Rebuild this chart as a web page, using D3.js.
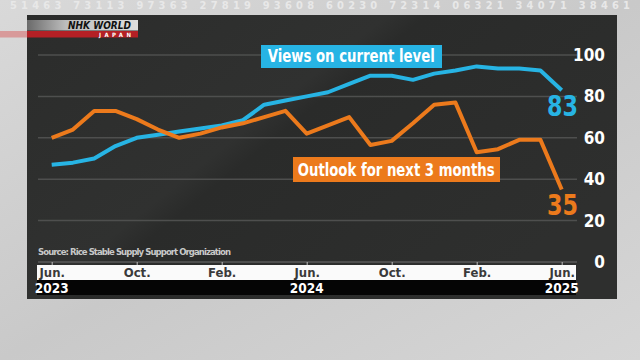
<!DOCTYPE html>
<html><head><meta charset="utf-8">
<script src="https://cdn.jsdelivr.net/npm/d3@7"></script>
<style>
html,body{margin:0;padding:0;background:#cfcfcf;}
svg{display:block;}
text{font-family:"Liberation Sans Narrow","DejaVu Sans Condensed","Liberation Sans",sans-serif;font-weight:bold;}
</style></head>
<body>
<svg id="c" width="640" height="360"></svg>
<script>
// ---- data ----
const months = ["2023-06","2023-07","2023-08","2023-09","2023-10","2023-11","2023-12",
  "2024-01","2024-02","2024-03","2024-04","2024-05","2024-06","2024-07","2024-08","2024-09",
  "2024-10","2024-11","2024-12","2025-01","2025-02","2025-03","2025-04","2025-05","2025-06"];
const viewsCurrent = [47,48,50,56,60,61.5,63,64.5,66,68.5,76,78,80,82,86,90,90,88,91,92.5,94.5,93.5,93.5,92.5,83];
const outlook3m   = [60,64,73,73,69,64,60,62,65,67,70,73,62,66,70,56.5,58.5,67,76,77,53,54.5,59,59,35];
const monthTicks  = ["2023-06","2023-10","2024-02","2024-06","2024-10","2025-02","2025-06"];
const monthLabels = ["Jun.","Oct.","Feb.","Jun.","Oct.","Feb.","Jun."];
const yearLabels  = {"2023-06":"2023","2024-06":"2024","2025-06":"2025"};
const yTicks = [0,20,40,60,80,100];
const seriesNames = ["Views on current level","Outlook for next 3 months"];
const source = "Source: Rice Stable Supply Support Organization";

const svg = d3.select("#c");
const defs = svg.append("defs");

// background
const bg = defs.append("linearGradient").attr("id","bg").attr("x1",0).attr("y1",0).attr("x2",1).attr("y2",1);
bg.append("stop").attr("offset","0").attr("stop-color","#d9d9d9");
bg.append("stop").attr("offset","0.5").attr("stop-color","#c9c9c9");
bg.append("stop").attr("offset","1").attr("stop-color","#d6d6d6");
svg.append("rect").attr("width",640).attr("height",360).attr("fill","url(#bg)");

// faint background digits (top strip only)
svg.append("text").attr("x",10).attr("y",9).attr("fill","#e8e8e8")
  .attr("font-size",11).attr("textLength",620)
  .text("51463   73113   97363   27819   93608   60230   72314   06321   34071   38461");

// panel
const pg = defs.append("linearGradient").attr("id","pg").attr("x1",0).attr("y1",0).attr("x2",1).attr("y2",0.6);
pg.append("stop").attr("offset","0").attr("stop-color","#2b2c2b");
pg.append("stop").attr("offset","0.45").attr("stop-color","#303130");
pg.append("stop").attr("offset","0.5").attr("stop-color","#2a2b2a");
pg.append("stop").attr("offset","1").attr("stop-color","#2e2f2e");
svg.append("rect").attr("x",27).attr("y",15).attr("width",590).attr("height",284).attr("fill","url(#pg)");

// logo
const lg = defs.append("linearGradient").attr("id","lg");
lg.append("stop").attr("offset","0").attr("stop-color","#6a6a6a");
lg.append("stop").attr("offset","0.35").attr("stop-color","#bdbdbd");
lg.append("stop").attr("offset","1").attr("stop-color","#dedede");
svg.append("rect").attr("x",27).attr("y",20).attr("width",111).attr("height",10.5).attr("fill","url(#lg)");
svg.append("rect").attr("x",0).attr("y",31).attr("width",27).attr("height",6.5).attr("fill","#d89a9a");
svg.append("rect").attr("x",27).attr("y",31).attr("width",111).attr("height",6.5).attr("fill","#b42025");
svg.append("text").attr("x",68).attr("y",29.3).attr("font-size",10.5).attr("fill","#111")
  .attr("font-style","italic").attr("textLength",63).attr("lengthAdjust","spacingAndGlyphs").text("NHK WORLD");
svg.append("text").attr("x",99).attr("y",36.5).attr("font-size",6).attr("fill","#fff")
  .attr("textLength",32).text("JAPAN");

// scales
const x = d3.scalePoint().domain(months).range([51.7,561.7]);
const y = d3.scaleLinear().domain([0,100]).range([262,55]);

// gridlines
svg.append("g").selectAll("line").data(yTicks.filter(d=>d>0)).join("line")
  .attr("x1",38).attr("x2",577).attr("y1",d=>y(d)).attr("y2",d=>y(d))
  .attr("stroke","#4e4f4e").attr("stroke-width",1.5);

// y axis labels
const ya = svg.append("g").attr("transform","translate(605,0)")
  .call(d3.axisLeft(y).tickValues(yTicks).tickSize(0).tickPadding(0));
ya.select(".domain").remove();
ya.selectAll("text").attr("fill","#fff").attr("font-size",17).attr("font-family",null);

// x axis strips
svg.append("rect").attr("x",37).attr("y",265).attr("width",539).attr("height",15).attr("fill","#fafafa");
svg.append("rect").attr("x",37).attr("y",280).attr("width",539).attr("height",15).attr("fill","#050505");

const xa = svg.append("g").attr("transform","translate(0,262)")
  .call(d3.axisBottom(x).tickValues(monthTicks).tickSize(3).tickPadding(0)
    .tickFormat((d,i)=>monthLabels[i]));
xa.select(".domain").attr("stroke","#5a5a5a").attr("stroke-width",1.5).attr("d","M38,0H577");
xa.selectAll(".tick line").attr("stroke","#bdbdbd");
xa.selectAll("text").attr("fill","#3a3a3a").attr("font-size",13).attr("font-family",null)
  .attr("dy",null).attr("y",14.7);

// year labels
svg.append("g").selectAll("text").data(monthTicks.filter(m=>yearLabels[m])).join("text")
  .attr("x",d=>x(d)).attr("y",292.7).attr("text-anchor","middle")
  .attr("fill","#fff").attr("font-size",13.5).text(d=>yearLabels[d]);

// source
svg.append("text").attr("x",38).attr("y",255).attr("fill","#c8c8c8").attr("font-size",9.5)
  .attr("font-weight","normal").attr("textLength",193).text(source);

// lines
const line = d3.line().x((d,i)=>x(months[i])).y(d=>y(d));
const colors = ["#27b4e4","#ec7a1c"];
[viewsCurrent,outlook3m].forEach((s,k)=>{
  svg.append("path").datum(s).attr("d",line).attr("fill","none")
    .attr("stroke",colors[k]).attr("stroke-width",4).attr("stroke-linejoin","round");
});

// series label boxes
const boxes = [
  {x:261,y:45,w:181,h:23,tx:267.7,tl:167,ty:61.7},
  {x:293,y:157,w:207,h:25,tx:297.7,tl:197,ty:176}];
boxes.forEach((b,k)=>{
  svg.append("rect").attr("x",b.x).attr("y",b.y).attr("width",b.w).attr("height",b.h).attr("fill",colors[k]);
  svg.append("text").attr("x",b.tx).attr("y",b.ty).attr("fill","#fff").attr("font-size",17)
    .attr("textLength",b.tl).attr("lengthAdjust","spacingAndGlyphs").text(seriesNames[k]);
});

// end value labels
const last = months.length-1;
[[viewsCurrent,116],[outlook3m,214.5]].forEach(([s,ty],k)=>{
  svg.append("text").attr("x",562.5).attr("y",ty).attr("text-anchor","middle")
    .attr("fill",colors[k]).attr("font-size",28).attr("textLength",31)
    .attr("lengthAdjust","spacingAndGlyphs").text(String(s[last]));
});
</script>
</body></html>
